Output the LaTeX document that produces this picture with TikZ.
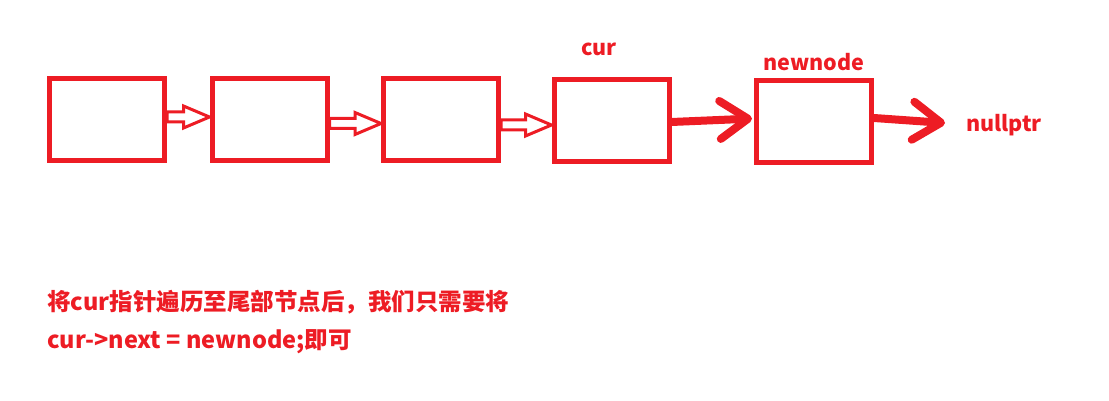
\documentclass[tikz,border=0pt]{standalone}
\usepackage{fontspec}
\setmainfont{Noto Sans CJK SC}
\usepackage{tikz}
\usetikzlibrary{arrows.meta, calc}
\definecolor{myred}{RGB}{237,28,36}
\tikzset{
  listnode/.style={rectangle, draw=myred, line width=5pt,
    minimum width=115pt, minimum height=82pt, inner sep=0pt},
  hollowarrow/.style={draw=myred, line width=3pt, line join=miter,
    to path={let \p1=(\tikztostart), \p2=(\tikztotarget) in
      (\x1,\y1+5) -- (\x2-26,\y1+5) -- (\x2-26,\y1+11) -- (\x2,\y1)
      -- (\x2-26,\y1-11) -- (\x2-26,\y1-5) -- (\x1,\y1-5) -- cycle}},
  thickarrow/.style={draw=myred, line width=8pt, line cap=round,
    -{Straight Barb[length=28pt, width=38pt, round]}},
  lbl/.style={font=\fontsize{21.5}{26}\selectfont\bfseries, text=myred, inner sep=0pt},
  note/.style={font=\fontsize{23.5}{28}\selectfont\bfseries, text=myred, inner sep=0pt, anchor=west}
}

\begin{document}
\begin{tikzpicture}[x=1pt, y=-1pt]
  \useasboundingbox (0,0) rectangle (1109,401);

  % List nodes
  \foreach \n/\x/\y in {1/107/119.5, 2/269.5/119.5, 3/441/120, 4/611.5/120.5, 5/814/121.5} {
    \node[listnode] (b\n) at (\x,\y) {};
  }

  % Labels
  \node[lbl] (curlbl) at (599,49) {cur};
  \node[lbl] (newlbl) at (814,62) {newnode};
  \node[lbl] (nul) at (1004,125) {nullptr};
  \coordinate (tail) at (945,123);

  % Hollow links between old nodes
  \draw[hollowarrow] ([yshift=2.5pt]b1.east) to ([yshift=2.5pt]b2.west);
  \draw[hollowarrow] ([yshift=-4pt]b2.east) to ([yshift=-4pt]b3.west);
  \draw[hollowarrow] ([yshift=-5pt]b3.east) to ([yshift=-5pt]b4.west);

  % New links
  \draw[thickarrow, shorten >=2pt] ([yshift=-1.5pt]b4.east) -- ([yshift=3pt]b5.west);
  \draw[thickarrow] ([yshift=3.5pt]b5.east) -- (tail);

  % Explanation
  \node[note] (txt1) at (47,302) {将cur指针遍历至尾部节点后，我们只需要将};
  \node[note] (txt2) at (47,342) {cur->next = newnode;即可};
\end{tikzpicture}
\end{document}
